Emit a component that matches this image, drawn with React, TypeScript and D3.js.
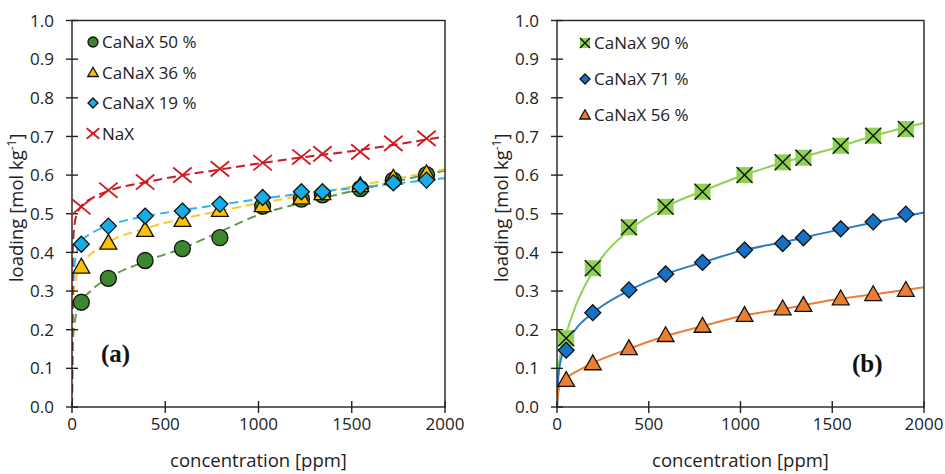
import React from 'react';
import * as d3 from 'd3';

// measured concentrations (ppm)
const conc = [50, 195, 392, 592, 793, 1022, 1230, 1343, 1546, 1723, 1901];
// panel (a)
const canax50 = [0.271, 0.333, 0.379, 0.41, 0.438, 0.52, 0.538, 0.549, 0.565, 0.587, 0.601];
const canax36 = [0.363, 0.425, 0.458, 0.484, 0.51, 0.522, 0.542, 0.553, 0.574, 0.593, 0.605];
const canax19 = [0.421, 0.468, 0.494, 0.507, 0.525, 0.542, 0.557, 0.557, 0.57, 0.58, 0.587];
const nax = [0.518, 0.561, 0.582, 0.6, 0.616, 0.632, 0.647, 0.655, 0.66, 0.682, 0.695];
// panel (b)
const canax90 = [0.178, 0.359, 0.465, 0.518, 0.557, 0.6, 0.633, 0.645, 0.676, 0.702, 0.719];
const canax71 = [0.147, 0.244, 0.303, 0.344, 0.374, 0.406, 0.423, 0.438, 0.461, 0.479, 0.499];
const canax56 = [0.07, 0.113, 0.152, 0.186, 0.21, 0.238, 0.255, 0.264, 0.281, 0.292, 0.303];

// fitted curves
const fitConc = [0, 5, 20, 50, 100, 200, 400, 600, 800, 1000, 1250, 1500, 1750, 2000];
const fit50 = [0, 0.17, 0.235, 0.272, 0.3, 0.335, 0.378, 0.412, 0.455, 0.497, 0.53, 0.558, 0.585, 0.612];
const fit36 = [0, 0.27, 0.33, 0.37, 0.395, 0.428, 0.463, 0.488, 0.508, 0.527, 0.548, 0.57, 0.592, 0.615];
const fit19 = [0, 0.3, 0.39, 0.428, 0.448, 0.47, 0.494, 0.51, 0.524, 0.538, 0.553, 0.566, 0.579, 0.592];
const fitNaX = [0, 0.42, 0.49, 0.52, 0.538, 0.56, 0.582, 0.6, 0.615, 0.63, 0.647, 0.662, 0.68, 0.7];
const fit90 = [0, 0.08, 0.14, 0.19, 0.26, 0.355, 0.46, 0.52, 0.56, 0.597, 0.635, 0.668, 0.705, 0.735];
const fit71 = [0, 0.06, 0.12, 0.16, 0.2, 0.245, 0.303, 0.345, 0.375, 0.404, 0.428, 0.455, 0.48, 0.503];
const fit56 = [0, 0.03, 0.06, 0.075, 0.09, 0.115, 0.152, 0.185, 0.21, 0.235, 0.255, 0.277, 0.293, 0.31];

const xTicks = [0, 500, 1000, 1500, 2000];
const yTicks = [0, 0.1, 0.2, 0.3, 0.4, 0.5, 0.6, 0.7, 0.8, 0.9, 1.0];

const FONT = '"Open Sans", sans-serif';

type Marker = 'circle' | 'triangle' | 'diamond' | 'cross' | 'xsquare';

function MarkerShape({ type, x, y, fill, s }: { type: Marker; x: number; y: number; fill: string; s: number }) {
  const h = s / 2;
  if (type === 'circle') return <circle cx={x} cy={y} r={h} fill={fill} stroke="#111" strokeWidth={1.3} />;
  if (type === 'triangle') {
    const pts = `${x},${y - h * 1.05} ${x + h * 1.05},${y + h * 0.8} ${x - h * 1.05},${y + h * 0.8}`;
    return <polygon points={pts} fill={fill} stroke="#111" strokeWidth={1.3} strokeLinejoin="miter" />;
  }
  if (type === 'diamond') {
    const pts = `${x},${y - h} ${x + h},${y} ${x},${y + h} ${x - h},${y}`;
    return <polygon points={pts} fill={fill} stroke="#111" strokeWidth={1.3} />;
  }
  if (type === 'cross') {
    const a = h * 1.15;
    const b = h * 0.95;
    return (
      <g stroke={fill} strokeWidth={1.8}>
        <line x1={x - a} y1={y - b} x2={x + a} y2={y + b} />
        <line x1={x - a} y1={y + b} x2={x + a} y2={y - b} />
      </g>
    );
  }
  // xsquare
  return (
    <g>
      <rect x={x - h} y={y - h} width={s} height={s} fill={fill} />
      <g stroke="#111" strokeWidth={1.4}>
        <line x1={x - h} y1={y - h} x2={x + h} y2={y + h} />
        <line x1={x - h} y1={y + h} x2={x + h} y2={y - h} />
      </g>
    </g>
  );
}

interface Series {
  name: string;
  values: number[];
  fit: number[];
  marker: Marker;
  fill: string;
  line: string;
}

const seriesA: Series[] = [
  { name: 'CaNaX 50 %', values: canax50, fit: fit50, marker: 'circle', fill: '#3E8530', line: '#5A9E47' },
  { name: 'CaNaX 36 %', values: canax36, fit: fit36, marker: 'triangle', fill: '#FFC000', line: '#FFC629' },
  { name: 'CaNaX 19 %', values: canax19, fit: fit19, marker: 'diamond', fill: '#16ACE8', line: '#2BB6EE' },
  { name: 'NaX', values: nax, fit: fitNaX, marker: 'cross', fill: '#D0181F', line: '#D0181F' },
];
const seriesB: Series[] = [
  { name: 'CaNaX 90 %', values: canax90, fit: fit90, marker: 'xsquare', fill: '#8FD150', line: '#8FD150' },
  { name: 'CaNaX 71 %', values: canax71, fit: fit71, marker: 'diamond', fill: '#1670C4', line: '#2A7CC8' },
  { name: 'CaNaX 56 %', values: canax56, fit: fit56, marker: 'triangle', fill: '#ED7D31', line: '#ED7D31' },
];

function Panel({
  left, right, series, dashed, label, labelPos, legendX, legendY, legendStep, titleX, clipId,
}: {
  left: number; right: number; series: Series[]; dashed: boolean; label: string;
  labelPos: [number, number]; legendX: number; legendY: number; legendStep: number; titleX: number; clipId: string;
}) {
  const top = 20.5;
  const bottom = 407;
  const x = d3.scaleLinear().domain([0, 2000]).range([left, right]);
  const y = d3.scaleLinear().domain([0, 1]).range([bottom, top]);
  const line = d3.line<number>().x((_, i) => x(fitConc[i])).y((d) => y(d)).curve(d3.curveMonotoneX);
  const fmt = d3.format('.1f');
  const midY = (top + bottom) / 2 - 6;
  return (
    <g>
      <defs>
        <clipPath id={clipId}>
          <rect x={left} y={top} width={right - left} height={bottom - top} />
        </clipPath>
      </defs>
      {/* fitted curves */}
      <g clipPath={`url(#${clipId})`}>
        {series.map((s) => (
          <path key={s.name} d={line(s.fit) || ''} fill="none" stroke={s.line} strokeWidth={2}
            strokeDasharray={dashed ? '9,5' : undefined} />
        ))}
      </g>
      {/* frame */}
      <rect x={left} y={top} width={right - left} height={bottom - top} fill="none" stroke="#222" strokeWidth={1.4} />
      {/* y ticks */}
      {yTicks.map((t) => (
        <g key={t}>
          <line x1={left - 6} x2={left + 6} y1={y(t)} y2={y(t)} stroke="#222" strokeWidth={1.4} />
          <text x={left - 18} y={y(t)} dy="0.36em" textAnchor="end" fontFamily={FONT} fontSize={17} fill="#222">{fmt(t)}</text>
        </g>
      ))}
      {/* x ticks */}
      {xTicks.map((t) => (
        <g key={t}>
          <line x1={x(t)} x2={x(t)} y1={bottom - 6} y2={bottom + 6} stroke="#222" strokeWidth={1.4} />
          <text x={x(t)} y={430} textAnchor="middle" fontFamily={FONT} fontSize={17} fill="#222">{t}</text>
        </g>
      ))}
      {/* markers */}
      {series.map((s) => (
        <g key={s.name}>
          {s.values.map((v, i) => (
            <MarkerShape key={i} type={s.marker} x={x(conc[i])} y={y(v)} fill={s.fill} s={16} />
          ))}
        </g>
      ))}
      {/* legend */}
      {series.map((s, i) => (
        <g key={s.name}>
          <MarkerShape type={s.marker} x={legendX} y={legendY + i * legendStep} fill={s.fill} s={s.marker === 'cross' ? 11 : 10} />
          <text x={legendX + 9} y={legendY + i * legendStep} dy="0.36em" fontFamily={FONT} fontSize={17} fill="#222">{s.name}</text>
        </g>
      ))}
      {/* axis titles */}
      <text x={(left + right) / 2} y={467} textAnchor="middle" fontFamily={FONT} fontSize={18.5} fill="#222">concentration [ppm]</text>
      <text transform={`translate(${titleX},${midY}) rotate(-90)`} textAnchor="middle" fontFamily={FONT} fontSize={18.5} fill="#222">
        loading [mol kg<tspan dy={-7} fontSize={12}>-1</tspan><tspan dy={7}>]</tspan>
      </text>
      <text x={labelPos[0]} y={labelPos[1]} fontFamily='"Liberation Serif", "Times New Roman", serif' fontWeight="bold" fontSize={25} fill="#111">{label}</text>
    </g>
  );
}

export default function App() {
  return (
    <svg width={945} height={474} style={{ position: 'absolute', left: 0, top: 0, background: '#fff' }}>
      <rect width={945} height={474} fill="#fff" />
      <Panel left={72} right={445} series={seriesA} dashed label="(a)" labelPos={[101, 362]}
        legendX={93} legendY={42} legendStep={30.5} titleX={23} clipId="clipA" />
      <Panel left={557} right={924} series={seriesB} dashed={false} label="(b)" labelPos={[852, 372]}
        legendX={585} legendY={43} legendStep={36} titleX={508} clipId="clipB" />
    </svg>
  );
}
